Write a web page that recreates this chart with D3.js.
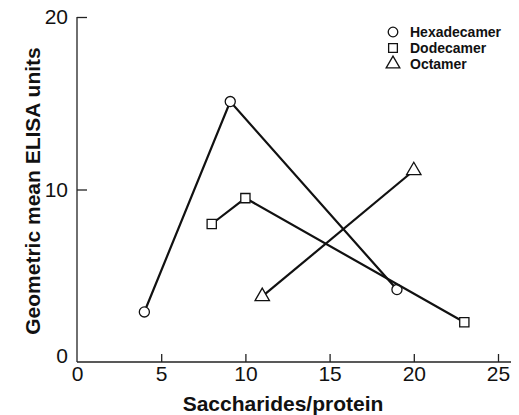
<!doctype html>
<html>
<head>
  <meta charset="utf-8" />
  <script src="https://cdnjs.cloudflare.com/ajax/libs/d3/7.8.5/d3.min.js"></script>
  <style>
  body{
    margin: 0;
    background: #fff;
    font-family: "Liberation Sans", Arial, Helvetica, sans-serif;
  }
  .tick text{
    font-size: 21px;
    fill: #111;
  }
  .tick line, .axisline{
    stroke: #222;
    stroke-width: 1.3;
  }
  .serie{
    fill: none;
    stroke: #111;
    stroke-width: 2.2;
  }
  .marker{
    fill: #fff;
    stroke: #111;
    stroke-width: 1.3;
  }
  .label{
    font-weight: bold;
    font-size: 21px;
    fill: #111;
  }
  .legend text{
    font-weight: bold;
    font-size: 14px;
    fill: #111;
  }
  </style>
</head>
<body>
  <div id="chart"></div>

  <script>
  // valeurs
  var series = ['Hexadecamer', 'Dodecamer', 'Octamer'];
  var symbols = ['circle', 'square', 'triangle'];
  var hexaX = [4, 9.1, 19];
  var hexaY = [2.9, 15.1, 4.2];
  var dodecaX = [8, 10, 23];
  var dodecaY = [8.0, 9.5, 2.3];
  var octaX = [11, 20];
  var octaY = [3.8, 11.1];
  var xTicks = [0, 5, 10, 15, 20, 25];
  var yTicks = [0, 10, 20];

  var data = [
    { name: series[0], symbol: symbols[0], xs: hexaX, ys: hexaY },
    { name: series[1], symbol: symbols[1], xs: dodecaX, ys: dodecaY },
    { name: series[2], symbol: symbols[2], xs: octaX, ys: octaY }
  ];

  var width = 519,
    height = 415;

  var svg = d3.select('#chart')
    .append('svg')
    .attr('width', width)
    .attr('height', height);

  var x = d3.scaleLinear().domain([0, 25]).range([77, 498]);
  var y = d3.scaleLinear().domain([0, 20]).range([362, 17]);

  // axe x, graduations vers l'intérieur
  var xAxis = svg.append('g')
    .attr('transform', 'translate(0,' + y(0) + ')')
    .call(d3.axisBottom(x).tickValues(xTicks).tickSizeInner(-8).tickSizeOuter(0).tickPadding(4));
  xAxis.select('.domain').remove();
  xAxis.selectAll('.tick').filter(function(d){ return d == 0; }).select('line').remove();

  var yAxis = svg.append('g')
    .attr('transform', 'translate(' + x(0) + ',0)')
    .call(d3.axisLeft(y).tickValues(yTicks).tickSizeInner(-10).tickSizeOuter(0).tickPadding(9));
  yAxis.select('.domain').remove();
  yAxis.selectAll('.tick').filter(function(d){ return d == 0; }).select('line').remove();
  yAxis.selectAll('.tick').filter(function(d){ return d == 0; }).select('text').attr('dy', '0');

  svg.append('line').attr('class', 'axisline')
    .attr('x1', x(0)).attr('x2', 511)
    .attr('y1', y(0)).attr('y2', y(0));
  svg.append('line').attr('class', 'axisline')
    .attr('x1', x(0)).attr('x2', x(0))
    .attr('y1', y(0)).attr('y2', y(20));

  // titres des axes
  svg.append('text').attr('class', 'label')
    .attr('x', 283).attr('y', 411)
    .attr('text-anchor', 'middle')
    .text('Saccharides/protein');

  svg.append('text').attr('class', 'label')
    .attr('transform', 'translate(40,191) rotate(-90)')
    .attr('text-anchor', 'middle')
    .text('Geometric mean ELISA units');

  var symbolTypes = {
    'circle': d3.symbolCircle,
    'square': d3.symbolSquare,
    'triangle': d3.symbolTriangle
  };
  var symbolSizes = { 'circle': 80, 'square': 85, 'triangle': 90 };

  function symbolPath(s, scale){
    return d3.symbol().type(symbolTypes[s]).size(symbolSizes[s] * (scale || 1))();
  }

  var line = d3.line()
    .x(function(d){ return x(d[0]); })
    .y(function(d){ return y(d[1]); });

  data.forEach(function(serie){
    var pts = d3.zip(serie.xs, serie.ys);
    svg.append('path')
      .attr('class', 'serie')
      .attr('d', line(pts));
    svg.selectAll('.m-' + serie.symbol)
      .data(pts)
      .enter().append('path')
      .attr('class', 'marker m-' + serie.symbol)
      .attr('transform', function(d){ return 'translate(' + x(d[0]) + ',' + y(d[1]) + ')'; })
      .attr('d', symbolPath(serie.symbol));
  });

  // légende
  var legend = svg.append('g').attr('class', 'legend');
  var rows = legend.selectAll('g')
    .data(data)
    .enter().append('g')
    .attr('transform', function(d, i){ return 'translate(393,' + (32 + i * 16) + ')'; });
  rows.append('path')
    .attr('class', 'marker')
    .attr('d', function(d){ return symbolPath(d.symbol, 0.9); });
  rows.append('text')
    .attr('x', 17)
    .attr('dy', '0.36em')
    .text(function(d){ return d.name; });
  </script>
</body>
</html>
